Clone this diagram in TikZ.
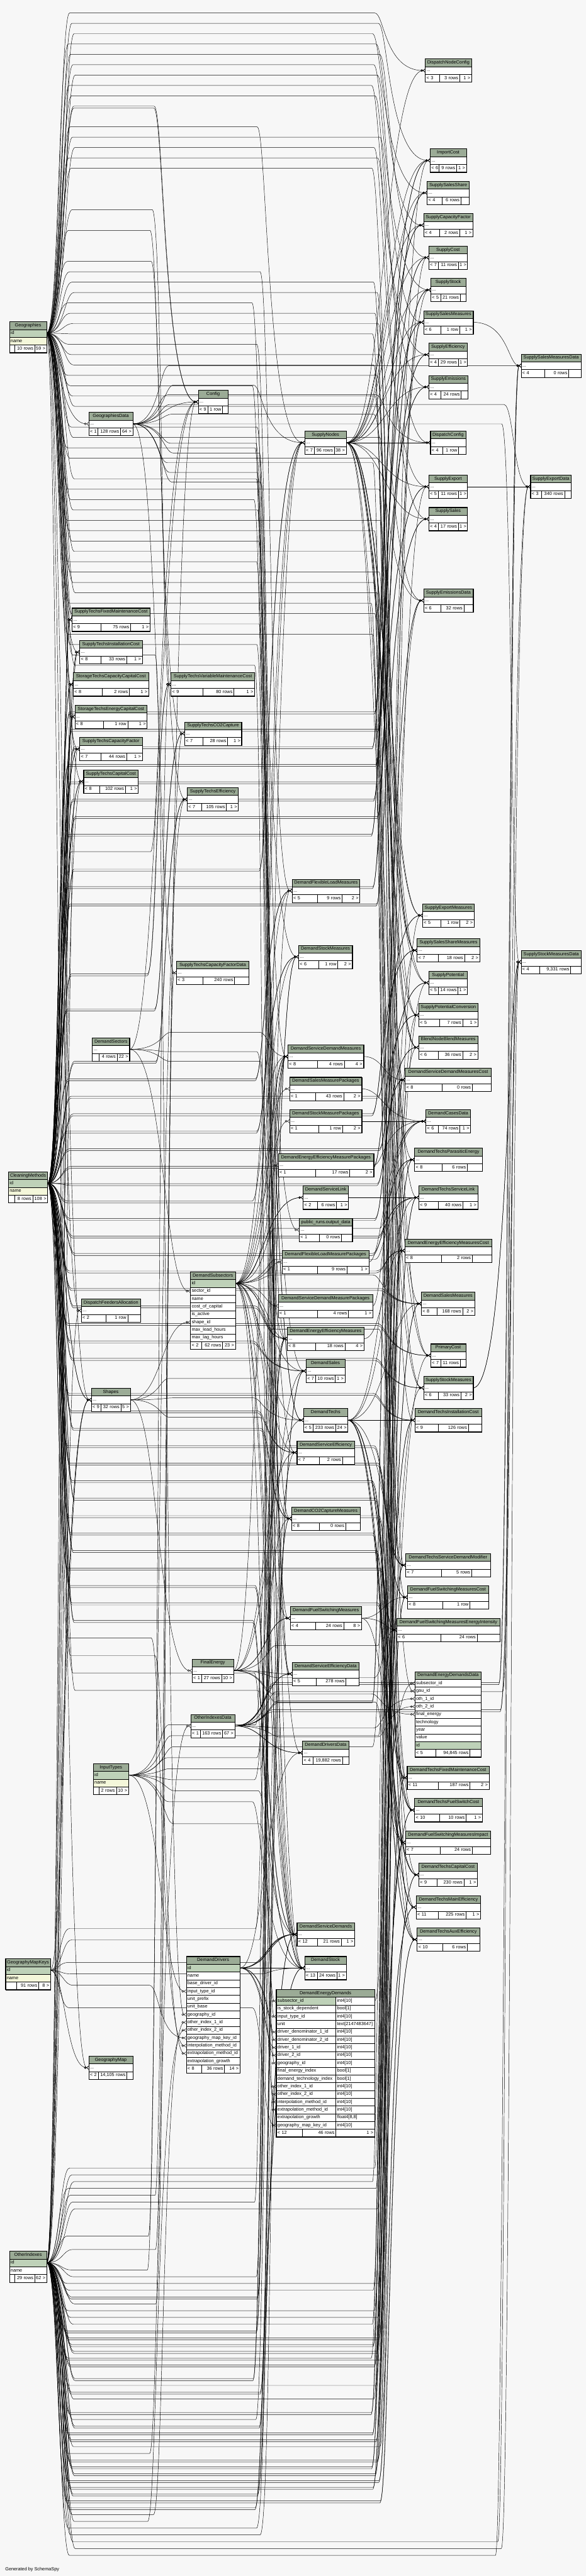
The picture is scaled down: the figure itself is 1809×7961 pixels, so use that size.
\documentclass[tikz,border=0pt]{standalone}
\usepackage{fontspec}
\setmainfont{Liberation Sans}
\usetikzlibrary{arrows.meta}
\definecolor{bgc}{HTML}{F7F7F7}
\definecolor{hdrc}{HTML}{9BAB96}
\definecolor{pkc}{HTML}{BED1B8}
\definecolor{idxc}{HTML}{F4F7DA}
\newcommand\tblfont{\fontsize{14.2pt}{16pt}\selectfont}
\newcommand\tdots{...}
\pgfdeclarelayer{bgl}\pgfdeclarelayer{edges}\pgfsetlayers{bgl,edges,main}
\tikzset{
 cell/.style={draw=black, line width=0.8pt, anchor=north west, inner xsep=4pt, inner ysep=0pt, minimum height=24pt, text height=10.5pt, text depth=3.5pt, font=\tblfont, outer sep=0pt},
 hdr/.style={fill=hdrc},
 ft/.style={fill=white},
 tblbox/.style={draw=black, line width=1.3pt, anchor=north west, inner sep=0pt, outer sep=0pt},
 fk/.style={draw=black, line width=0.9pt, -{Circle[open,length=7pt,width=7pt] Straight Barb[reversed,length=6pt,width=10pt]}},
}
% table: id, left, split1, split2, right, top, title, foot1, foot2 | foot3, rows
\newcommand\tbl[9]{\def\tblId{#1}\def\tblL{#2}\def\tblSa{#3}\def\tblSb{#4}\def\tblR{#5}\def\tblT{#6}\def\tblTitle{#7}\def\tblFa{#8}\def\tblFb{#9}\tblB}
\newcommand\tblB[2]{%
 \pgfmathsetmacro\tblW{\tblR-\tblL}%
 \pgfmathsetmacro\tblTW{\tblW-8}%
 \node[cell,hdr,minimum width=\tblW pt] (\tblId-h) at (\tblL,\tblT) {\tblTitle};
 \foreach \rt/\rs [count=\k] in {#2}{%
   \node[cell,fill=\rs,align=left,text width=\tblTW pt] (\tblId-\k) at (\tblL,\tblT+24*\k) {\mbox{\rt}};
   \xdef\tblN{\k}}%
 \pgfmathsetmacro\tblFy{\tblT+24*(\tblN+1)}%
 \pgfmathsetmacro\tblWa{\tblSa-\tblL-8}%
 \pgfmathsetmacro\tblWb{\tblSb-\tblSa-8}%
 \pgfmathsetmacro\tblWc{\tblR-\tblSb-8}%
 \node[cell,ft,align=left,text width=\tblWa pt] (\tblId-fa) at (\tblL,\tblFy) {\mbox{\tblFa}};
 \node[cell,ft,align=right,text width=\tblWb pt] (\tblId-fb) at (\tblSa,\tblFy) {\mbox{\tblFb}};
 \node[cell,ft,align=right,text width=\tblWc pt] (\tblId-fc) at (\tblSb,\tblFy) {\mbox{#1}};
 \pgfmathsetmacro\tblH{24*(\tblN+2)}%
 \node[tblbox,minimum width=\tblW pt,minimum height=\tblH pt] (\tblId) at (\tblL,\tblT) {};
 \pgfmathsetmacro\tblTA{ifthenelse(\tblR<200,190,ifthenelse(\tblR<470,497,ifthenelse(\tblR<800,822,ifthenelse(\tblR<1200,1190,1574))))}%
 \pgfmathsetmacro\tblTB{ifthenelse(\tblL<200,0,ifthenelse(\tblL<520,190,ifthenelse(\tblL<850,497,ifthenelse(\tblL<1222,822,ifthenelse(\tblL<1600,1190,1574)))))}%
 \expandafter\xdef\csname ta@\tblId\endcsname{\tblTA}%
 \expandafter\xdef\csname tb@\tblId\endcsname{\tblTB}%
}
% connector: parent table, parent anchor node, child table, child anchor node, lane y, seed
\newcommand\fk[6]{%
 \pgfmathsetmacro\fkTA{\csname ta@#1\endcsname}%
 \pgfmathsetmacro\fkTB{\csname tb@#3\endcsname}%
 \pgfmathsetmacro\fkA{\fkTA+mod((#6)*7,25)-12}%
 \pgfmathsetmacro\fkB{\fkTB+mod((#6)*11,29)-14}%
 \pgfmathsetmacro\fkC{\fkA+30}%
 \pgfmathsetmacro\fkD{\fkB-30}%
 \ifdim\fkTB pt>\fkTA pt
  \draw[fk] (#2.east) .. controls (\fkA,0 |- #2.east) and (\fkA,#5) .. (\fkC,#5) -- (\fkD,#5) .. controls (\fkB,#5) and (\fkB,0 |- #4.west) .. (#4.west);
 \else
  \draw[fk] (#2.east) .. controls (\fkA,0 |- #2.east) and (\fkA,0 |- #4.west) .. (#4.west);
 \fi}
\newcommand\fan[5]{%
 \foreach \chd/\anc/\mul [count=\kk] in {#5}{%
   \pgfmathsetmacro\fkl{#3+(\kk-1)*#4}%
   \fk{#1}{#2}{\chd}{\anc}{\fkl}{\kk}%
   \ifnum\mul>1\relax
     \pgfmathsetmacro\fkl{#3+(\kk-1)*#4+6}%
     \fk{#1}{#2}{\chd}{\anc}{\fkl}{\kk+50}%
   \fi}}
\begin{document}
\begin{tikzpicture}[x=1pt,y=-1pt]
\begin{pgfonlayer}{bgl}
\fill[bgc] (0,0) rectangle (1809,7961);
\end{pgfonlayer}
\useasboundingbox (0,0) rectangle (1809,7961);
% column 1
\tbl{Geo}{29}{46}{107}{144}{994}{Geographies}{}{10 rows}{59 >}{id/pkc,name/idxc}
\tbl{CM}{26}{46}{101}{147}{3621}{CleaningMethods}{}{8 rows}{108 >}{id/pkc,name/idxc}
\tbl{GMK}{17}{50}{119}{156}{6053}{GeographyMapKeys}{}{91 rows}{8 >}{id/pkc,name/idxc}
\tbl{OI}{29}{46}{107}{144}{6957}{OtherIndexes}{}{29 rows}{62 >}{id/pkc,name/white}
% column 2
\tbl{GD}{274}{302}{372}{410}{1274}{GeographiesData}{< 1}{128 rows}{64 >}{\tdots/white}
\tbl{STFMC}{222}{311}{403}{463}{1879}{SupplyTechsFixedMaintenanceCost}{< 9}{75 rows}{1 >}{\tdots/white}
\tbl{STIC}{246}{311}{391}{439}{1979}{SupplyTechsInstallationCost}{< 8}{33 rows}{1 >}{\tdots/white}
\tbl{StCCC}{226}{316}{399}{459}{2079}{StorageTechsCapacityCapitalCost}{< 8}{2 rows}{1 >}{\tdots/white}
\tbl{StECC}{231}{319}{394}{454}{2179}{StorageTechsEnergyCapitalCost}{< 8}{1 row}{1 >}{\tdots/white}
\tbl{STCF}{246}{311}{391}{439}{2279}{SupplyTechsCapacityFactor}{< 7}{44 rows}{1 >}{\tdots/white}
\tbl{STCC}{258}{308}{387}{427}{2379}{SupplyTechsCapitalCost}{< 8}{102 rows}{1 >}{\tdots/white}
\tbl{DSec}{285}{306}{361}{400}{3207}{DemandSectors}{}{4 rows}{22 >}{\tdots/white}
\tbl{DFA}{251}{326}{394}{434}{4014}{DispatchFeedersAllocation}{< 2}{1 row}{}{\tdots/white}
\tbl{Sh}{282}{312}{373}{402}{4290}{Shapes}{< 9}{32 rows}{5 >}{\tdots/white}
\tbl{IT}{288}{305}{359}{397}{5450}{InputTypes}{}{2 rows}{10 >}{id/pkc,name/idxc}
\tbl{GMap}{274}{303}{392}{410}{6354}{GeographyMap}{< 2}{14,105 rows}{}{\tdots/white}
% column 3
\tbl{Cfg}{612}{641}{687}{704}{1206}{Config}{< 9}{1 row}{}{\tdots/white}
\tbl{STVMC}{528}{627}{722}{786}{2079}{SupplyTechsVariableMaintenanceCost}{< 9}{80 rows}{1 >}{\tdots/white}
\tbl{STCO2}{570}{627}{703}{746}{2231}{SupplyTechsCO2Capture}{< 7}{28 rows}{1 >}{\tdots/white}
\tbl{STEff}{578}{623}{699}{736}{2434}{SupplyTechsEfficiency}{< 7}{105 rows}{1 >}{\tdots/white}
\tbl{STCFD}{545}{627}{724}{769}{2970}{SupplyTechsCapacityFactorData}{< 3}{240 rows}{}{\tdots/white}
\tbl{DSub}{588}{623}{687}{727}{3930}{DemandSubsectors}{< 2}{62 rows}{23 >}{id/pkc,sector\_id/white,name/white,cost\_of\_capital/white,is\_active/white,shape\_id/white,max\_lead\_hours/white,max\_lag\_hours/white}
\tbl{FE}{593}{623}{684}{721}{5127}{FinalEnergy}{< 1}{27 rows}{10 >}{\tdots/white}
\tbl{OID}{589}{619}{687}{725}{5298}{OtherIndexesData}{< 1}{163 rows}{67 >}{\tdots/white}
\tbl{DD}{575}{623}{693}{741}{6046}{DemandDrivers}{< 8}{36 rows}{14 >}{id/pkc,name/white,base\_driver\_id/white,input\_type\_id/white,unit\_prefix/white,unit\_base/white,geography\_id/white,other\_index\_1\_id/white,other\_index\_2\_id/white,geography\_map\_key\_id/white,interpolation\_method\_id/white,extrapolation\_method\_id/white,extrapolation\_growth/white}
% column 4
\tbl{SN}{941}{971}{1032}{1069}{1332}{SupplyNodes}{< 7}{96 rows}{38 >}{\tdots/white}
\tbl{DFLM}{902}{979}{1056}{1111}{2717}{DemandFlexibleLoadMeasures}{< 5}{9 rows}{2 >}{\tdots/white}
\tbl{DSM}{922}{983}{1043}{1088}{2921}{DemandStockMeasures}{< 6}{1 row}{2 >}{\tdots/white}
\tbl{DSDM}{889}{979}{1063}{1123}{3229}{DemandServiceDemandMeasures}{< 8}{4 rows}{4 >}{\tdots/white}
\tbl{DSMP}{894}{975}{1061}{1117}{3329}{DemandSalesMeasurePackages}{< 1}{43 rows}{2 >}{\tdots/white}
\tbl{DStMP}{894}{983}{1057}{1117}{3429}{DemandStockMeasurePackages}{< 1}{1 row}{2 >}{\tdots/white}
\tbl{DEEMP}{859}{975}{1080}{1154}{3565}{DemandEnergyEfficiencyMeasurePackages}{< 1}{17 rows}{2 >}{\tdots/white}
\tbl{DSL}{936}{979}{1039}{1076}{3665}{DemandServiceLink}{< 2}{6 rows}{1 >}{\tdots/white}
\tbl{PROD}{924}{985}{1054}{1088}{3765}{public\_runs.output\_data}{< 1}{0 rows}{}{\tdots/white}
\tbl{DFLMP}{871}{979}{1071}{1139}{3864}{DemandFlexibleLoadMeasurePackages}{< 1}{9 rows}{1 >}{\tdots/white}
\tbl{DSDMP}{859}{979}{1076}{1151}{4000}{DemandServiceDemandMeasurePackages}{< 1}{4 rows}{1 >}{\tdots/white}
\tbl{DEEM}{887}{975}{1065}{1124}{4101}{DemandEnergyEfficiencyMeasures}{< 8}{18 rows}{4 >}{\tdots/white}
\tbl{DS}{945}{975}{1035}{1065}{4201}{DemandSales}{< 7}{10 rows}{1 >}{\tdots/white}
\tbl{DT}{937}{967}{1036}{1074}{4353}{DemandTechs}{< 5}{233 rows}{24 >}{\tdots/white}
\tbl{DSE}{917}{985}{1057}{1095}{4453}{DemandServiceEfficiency}{< 7}{2 rows}{}{\tdots/white}
\tbl{DCO2}{900}{985}{1067}{1112}{4657}{DemandCO2CaptureMeasures}{< 8}{0 rows}{}{\tdots/white}
\tbl{DFSM}{896}{975}{1061}{1116}{4965}{DemandFuelSwitchingMeasures}{< 4}{24 rows}{8 >}{\tdots/white}
\tbl{DSED}{902}{976}{1068}{1109}{5137}{DemandServiceEfficiencyData}{< 5}{278 rows}{}{\tdots/white}
\tbl{DDD}{934}{967}{1057}{1077}{5381}{DemandDriversData}{< 4}{19,882 rows}{}{\tdots/white}
\tbl{DSD}{917}{979}{1053}{1095}{5942}{DemandServiceDemands}{< 12}{21 rows}{1 >}{\tdots/white}
\tbl{DSt}{941}{979}{1040}{1069}{6046}{DemandStock}{< 13}{24 rows}{1 >}{\tdots/white}
% DemandEnergyDemands (focus table)
\node[cell,hdr,minimum width=304pt] (DED-h) at (853,6148) {DemandEnergyDemands};
\foreach \rt/\rty/\rs [count=\k] in {subsector\_id/int4[10]/pkc, is\_stock\_dependent/bool[1]/white, input\_type\_id/int4[10]/white, unit/text[2147483647]/white, driver\_denominator\_1\_id/int4[10]/white, driver\_denominator\_2\_id/int4[10]/white, driver\_1\_id/int4[10]/white, driver\_2\_id/int4[10]/white, geography\_id/int4[10]/white, final\_energy\_index/bool[1]/white, demand\_technology\_index/bool[1]/white, other\_index\_1\_id/int4[10]/white, other\_index\_2\_id/int4[10]/white, interpolation\_method\_id/int4[10]/white, extrapolation\_method\_id/int4[10]/white, extrapolation\_growth/{float4[8,8]}/white, geography\_map\_key\_id/int4[10]/white}{
  \node[cell,fill=\rs,align=left,text width=176pt] (DED-\k) at (853,6148+24*\k) {\mbox{\rt}};
  \node[cell,fill=white,align=left,text width=112pt] (DED-\k-t) at (1037,6148+24*\k) {\mbox{\rty}};
}
\node[cell,ft,align=left,text width=72pt] (DED-fa) at (853,6580) {\mbox{< 12}};
\node[cell,ft,align=right,text width=96pt] (DED-fb) at (933,6580) {\mbox{46 rows}};
\node[cell,ft,align=right,text width=112pt] (DED-fc) at (1037,6580) {\mbox{1 >}};
\node[tblbox,line width=2.6pt,minimum width=304pt,minimum height=456pt] (DED) at (853,6148) {};
\expandafter\xdef\csname ta@DED\endcsname{1190}
\expandafter\xdef\csname tb@DED\endcsname{822}
% column 5
\tbl{DNC}{1313}{1357}{1419}{1456}{182}{DispatchNodeConfig}{< 3}{3 rows}{1 >}{\tdots/white}
\tbl{IC}{1328}{1356}{1410}{1440}{460}{ImportCost}{< 6}{9 rows}{1 >}{\tdots/white}
\tbl{SSS}{1319}{1364}{1423}{1449}{560}{SupplySalesShare}{< 4}{6 rows}{}{\tdots/white}
\tbl{SCF}{1308}{1357}{1419}{1460}{660}{SupplyCapacityFactor}{< 4}{2 rows}{1 >}{\tdots/white}
\tbl{SC}{1324}{1353}{1415}{1443}{760}{SupplyCost}{< 7}{11 rows}{1 >}{\tdots/white}
\tbl{SSt}{1330}{1360}{1421}{1438}{860}{SupplyStock}{< 5}{21 rows}{}{\tdots/white}
\tbl{SSM}{1308}{1361}{1419}{1461}{960}{SupplySalesMeasures}{< 6}{1 row}{1 >}{\tdots/white}
\tbl{SEf}{1324}{1353}{1415}{1443}{1060}{SupplyEfficiency}{< 4}{29 rows}{1 >}{\tdots/white}
\tbl{SEm}{1324}{1360}{1424}{1445}{1160}{SupplyEmissions}{< 4}{24 rows}{}{\tdots/white}
\tbl{DC}{1329}{1367}{1416}{1438}{1332}{DispatchConfig}{< 4}{1 row}{}{\tdots/white}
\tbl{SEx}{1324}{1353}{1415}{1443}{1468}{SupplyExport}{< 5}{11 rows}{1 >}{\tdots/white}
\tbl{SSa}{1324}{1353}{1415}{1443}{1568}{SupplySales}{< 4}{17 rows}{1 >}{\tdots/white}
\tbl{SED}{1308}{1360}{1432}{1461}{1820}{SupplyEmissionsData}{< 6}{32 rows}{}{\tdots/white}
\tbl{SExM}{1305}{1361}{1420}{1464}{2793}{SupplyExportMeasures}{< 5}{1 row}{2 >}{\tdots/white}
\tbl{SSSM}{1288}{1353}{1434}{1481}{2901}{SupplySalesShareMeasures}{< 7}{18 rows}{2 >}{\tdots/white}
\tbl{SP}{1324}{1353}{1414}{1443}{3001}{SupplyPotential}{< 5}{14 rows}{1 >}{\tdots/white}
\tbl{SPC}{1293}{1357}{1428}{1476}{3101}{SupplyPotentialConversion}{< 5}{7 rows}{1 >}{\tdots/white}
\tbl{BNBM}{1293}{1353}{1428}{1475}{3201}{BlendNodeBlendMeasures}{< 6}{36 rows}{2 >}{\tdots/white}
\tbl{DSDMC}{1251}{1364}{1458}{1517}{3301}{DemandServiceDemandMeasuresCost}{< 8}{0 rows}{}{\tdots/white}
\tbl{DCD}{1315}{1353}{1420}{1453}{3429}{DemandCasesData}{< 6}{74 rows}{1 >}{\tdots/white}
\tbl{DTPE}{1280}{1364}{1443}{1490}{3548}{DemandTechsParasiticEnergy}{< 8}{6 rows}{}{\tdots/white}
\tbl{DTSL}{1293}{1353}{1429}{1475}{3665}{DemandTechsServiceLink}{< 9}{40 rows}{1 >}{\tdots/white}
\tbl{DEEMC}{1250}{1362}{1458}{1518}{3829}{DemandEnergyEfficiencyMeasuresCost}{< 8}{2 rows}{}{\tdots/white}
\tbl{DSaM}{1301}{1349}{1428}{1466}{3993}{DemandSalesMeasures}{< 8}{168 rows}{2 >}{\tdots/white}
\tbl{PC}{1330}{1360}{1421}{1438}{4153}{PrimaryCost}{< 7}{11 rows}{}{\tdots/white}
\tbl{SStM}{1308}{1353}{1423}{1461}{4253}{SupplyStockMeasures}{< 6}{33 rows}{2 >}{\tdots/white}
\tbl{DTIC}{1281}{1354}{1446}{1487}{4353}{DemandTechsInstallationCost}{< 9}{126 rows}{}{\tdots/white}
\tbl{DTSDM}{1253}{1362}{1456}{1514}{4801}{DemandTechsServiceDemandModifier}{< 7}{5 rows}{}{\tdots/white}
\tbl{DFSMC}{1258}{1367}{1451}{1509}{4900}{DemandFuelSwitchingMeasuresCost}{< 8}{1 row}{}{\tdots/white}
\tbl{DFSMEI}{1225}{1360}{1473}{1544}{5001}{DemandFuelSwitchingMeasuresEnergyIntensity}{< 6}{24 rows}{}{\tdots/white}
\tbl{DEDD}{1281}{1345}{1451}{1486}{5166}{DemandEnergyDemandsData}{< 5}{94,845 rows}{}{subsector\_id/white,gau\_id/white,oth\_1\_id/white,oth\_2\_id/white,final\_energy/white,technology/white,year/white,value/white,id/pkc}
\tbl{DTFMC}{1257}{1353}{1451}{1510}{5458}{DemandTechsFixedMaintenanceCost}{< 11}{187 rows}{2 >}{\tdots/white}
\tbl{DTFSC}{1280}{1357}{1439}{1489}{5558}{DemandTechsFuelSwitchCost}{< 10}{10 rows}{1 >}{\tdots/white}
\tbl{DFSMI}{1252}{1359}{1458}{1515}{5658}{DemandFuelSwitchingMeasuresImpact}{< 7}{24 rows}{}{\tdots/white}
\tbl{DTCC}{1293}{1349}{1432}{1474}{5758}{DemandTechsCapitalCost}{< 9}{230 rows}{1 >}{\tdots/white}
\tbl{DTME}{1285}{1353}{1439}{1484}{5858}{DemandTechsMainEfficiency}{< 11}{225 rows}{1 >}{\tdots/white}
\tbl{DTAE}{1288}{1367}{1443}{1481}{5958}{DemandTechsAuxEfficiency}{< 10}{6 rows}{}{\tdots/white}
% column 6
\tbl{SSMD}{1609}{1682}{1756}{1795}{1094}{SupplySalesMeasuresData}{< 4}{0 rows}{}{\tdots/white}
\tbl{SExD}{1638}{1672}{1743}{1764}{1468}{SupplyExportData}{< 3}{340 rows}{}{\tdots/white}
\tbl{SStMD}{1609}{1667}{1762}{1795}{2937}{SupplyStockMeasuresData}{< 4}{9,331 rows}{}{\tdots/white}
\node[anchor=west,font=\tblfont,inner sep=0pt] (gen) at (16,7941) {Generated by SchemaSpy};
% connectors
\begin{pgfonlayer}{edges}
\fan{Geo}{Geo-1}{40}{32}{DNC/DNC/1, IC/IC/1, SSS/SSS/1, SCF/SCF/1, SC/SC/1, SSt/SSt/1, SSM/SSM/1, SEf/SEf/1, SEm/SEm/1, Cfg/Cfg/2, GD/GD/1, SN/SN/1, DC/DC/1, SEx/SEx/1, SSa/SSa/1, SED/SED/1, STFMC/STFMC/1, STIC/STIC/1, StCCC/StCCC/1, STVMC/STVMC/1, StECC/StECC/1, STCO2/STCO2/1, STCF/STCF/1, STCC/STCC/1, STEff/STEff/1, DFLM/DFLM/1, SExM/SExM/1, SSSM/SSSM/1, DSM/DSM/1, SP/SP/1, SPC/SPC/1, BNBM/BNBM/1, DSDM/DSDM/1, DSDMC/DSDMC/1, DTPE/DTPE/1, DTSL/DTSL/1, PROD/PROD/1, DEEMC/DEEMC/1, DSaM/DSaM/1, DFA/DFA/1, DEEM/DEEM/1, PC/PC/1, DS/DS/1, SStM/SStM/1, Sh/Sh/1, DT/DT/1, DTIC/DTIC/1, DSE/DSE/1, DCO2/DCO2/1, DTSDM/DTSDM/1, DFSMC/DFSMC/1, DFSM/DFSM/1, DFSMEI/DFSMEI/1, DSED/DSED/1, DTFMC/DTFMC/1, DTFSC/DTFSC/1, DFSMI/DFSMI/1, DTCC/DTCC/1, DTME/DTME/1, DSD/DSD/1, DTAE/DTAE/1, DSt/DSt/1, DD/DD-7/1, DED/DED-9/1, GMap/GMap/1}
\fan{CM}{CM-1}{2200}{54}{IC/IC/2, SSS/SSS/2, SCF/SCF/2, SC/SC/2, SSt/SSt/2, SSM/SSM/2, SEf/SEf/2, SEm/SEm/2, Cfg/Cfg/1, SN/SN/2, SEx/SEx/2, SSa/SSa/2, STFMC/STFMC/2, STIC/STIC/2, StCCC/StCCC/2, STVMC/STVMC/2, StECC/StECC/2, STCO2/STCO2/2, STCF/STCF/2, STCC/STCC/2, STEff/STEff/2, DFLM/DFLM/2, SExM/SExM/2, SSSM/SSSM/2, DSM/DSM/2, SP/SP/2, SPC/SPC/2, BNBM/BNBM/2, DSDM/DSDM/2, DSDMC/DSDMC/2, DTPE/DTPE/2, DTSL/DTSL/2, DEEMC/DEEMC/2, DSaM/DSaM/2, DEEM/DEEM/2, PC/PC/2, DS/DS/2, SStM/SStM/2, Sh/Sh/2, DTIC/DTIC/2, DSE/DSE/2, DCO2/DCO2/2, DTSDM/DTSDM/2, DFSMC/DFSMC/2, DFSMEI/DFSMEI/2, DTFMC/DTFMC/2, DTFSC/DTFSC/2, DFSMI/DFSMI/2, DTCC/DTCC/2, DTME/DTME/2, DSD/DSD/2, DTAE/DTAE/2, DSt/DSt/2, DD/DD-11/1, DD/DD-12/1, DED/DED-14/1, DED/DED-15/1}
\fan{OI}{OI-1}{6700}{21}{IC/IC/1, SC/SC/1, SSt/SSt/1, SSM/SSM/1, Cfg/Cfg/1, SN/SN/1, SEx/SEx/1, STFMC/STFMC/1, STIC/STIC/1, StCCC/StCCC/1, STVMC/STVMC/1, StECC/StECC/1, STCO2/STCO2/1, STCF/STCF/1, STCC/STCC/1, STEff/STEff/1, DFLM/DFLM/1, SExM/SExM/1, SSSM/SSSM/1, DSM/DSM/2, STCFD/STCFD/1, SP/SP/1, SPC/SPC/1, BNBM/BNBM/1, DSDM/DSDM/2, DSDMC/DSDMC/2, DTPE/DTPE/2, DTSL/DTSL/2, DEEMC/DEEMC/2, DSaM/DSaM/2, DFA/DFA/1, DEEM/DEEM/2, PC/PC/1, DS/DS/2, SStM/SStM/1, Sh/Sh/2, DTIC/DTIC/2, DSE/DSE/1, DCO2/DCO2/2, DTSDM/DTSDM/2, DFSMC/DFSMC/2, DFSMEI/DFSMEI/1, OID/OID/1, DTFMC/DTFMC/2, DTFSC/DTFSC/2, DFSMI/DFSMI/2, DTCC/DTCC/2, DTME/DTME/2, DSD/DSD/2, DTAE/DTAE/2, DSt/DSt/2, DD/DD-8/1, DD/DD-9/1, DED/DED-12/1, DED/DED-13/1, SSMD/SSMD/1, SStMD/SStMD/1, SExD/SExD/1}
\fan{GMK}{GMK-1}{5960}{35}{DSDM/DSDM/1, DEEM/DEEM/1, Sh/Sh/1, DSD/DSD/1, DSt/DSt/1, DD/DD-10/1, GMap/GMap/1, DED/DED-17/1}
\fan{IT}{IT-1}{5330}{34}{DSDM/DSDM/1, DSDMC/DSDMC/1, DEEMC/DEEMC/1, DEEM/DEEM/1, DS/DS/1, DCO2/DCO2/1, DSD/DSD/1, DSt/DSt/1, DD/DD-4/1, DED/DED-3/1}
\fan{GD}{GD}{1130}{30}{SSMD/SSMD/1, Cfg/Cfg/1, SN/SN/1, DC/DC/1, SExD/SExD/1, SED/SED/1, SStMD/SStMD/1, STCFD/STCFD/1, DT/DT/1, DSED/DSED/1, DEDD/DEDD-2/1, DDD/DDD/1, DSt/DSt/1}
\fan{OID}{OID}{5200}{28}{SSMD/SSMD/2, SExD/SExD/1, SED/SED/2, SStMD/SStMD/2, DSED/DSED/2, DEDD/DEDD-3/1, DEDD/DEDD-4/1, DDD/DDD/2}
\fan{DSec}{DSec}{3160}{30}{Cfg/Cfg/1, DSDM/DSDM/1, DSub/DSub-2/1, DEEM/DEEM/1, DSD/DSD/1}
\fan{DSub}{DSub-1}{3700}{24}{DFLM/DFLM/1, DSM/DSM/1, DSDM/DSDM/1, DSMP/DSMP/1, DCD/DCD/1, DStMP/DStMP/1, DEEMP/DEEMP/1, DSL/DSL/2, DTSL/DTSL/1, DFLMP/DFLMP/1, DSaM/DSaM/1, DSDMP/DSDMP/1, DEEM/DEEM/1, DS/DS/1, DT/DT/1, DSE/DSE/1, DCO2/DCO2/1, DTSDM/DTSDM/1, DFSM/DFSM/1, DSD/DSD/1, DSt/DSt/1, DED/DED-1/1}
\fan{SN}{SN}{0}{0}{DNC/DNC/1, IC/IC/1, SSS/SSS/1, SCF/SCF/1, SC/SC/1, SSt/SSt/1, SSM/SSM/1, SEf/SEf/1, SEm/SEm/1, DC/DC/2, SEx/SEx/1, SSa/SSa/1, SExM/SExM/1, SSSM/SSSM/2, SP/SP/1, SPC/SPC/1, BNBM/BNBM/2, SStM/SStM/1, PC/PC/1}
\fan{Sh}{Sh}{4260}{30}{SN/SN/1, DSub/DSub-6/1, DT/DT/1, FE/FE/1, DSt/DSt/1}
\fan{FE}{FE}{5060}{25}{SN/SN/1, SED/SED/1, DT/DT/1, DSE/DSE/1, DFSM/DFSM/2, DFSMEI/DFSMEI/1, DSED/DSED/1, DEDD/DEDD-5/1, DFSMI/DFSMI/1}
\fan{DT}{DT}{0}{0}{DTPE/DTPE/1, DTSL/DTSL/1, DSaM/DSaM/1, DTIC/DTIC/1, DTSDM/DTSDM/1, DTFMC/DTFMC/1, DTFSC/DTFSC/2, DTCC/DTCC/1, DTME/DTME/1, DTAE/DTAE/1}
\fan{DD}{DD-1}{0}{0}{DDD/DDD/1, DSD/DSD/2, DSD/DSD/2, DSt/DSt/2, DSt/DSt/2, DED/DED-5/1, DED/DED-6/1, DED/DED-7/1, DED/DED-8/1}
\fan{DSDM}{DSDM}{0}{0}{DSDMC/DSDMC/1}
\fan{DEEM}{DEEM}{0}{0}{DEEMC/DEEMC/1}
\fan{DFSM}{DFSM}{0}{0}{DFSMC/DFSMC/1, DFSMEI/DFSMEI/1, DFSMI/DFSMI/1}
\fan{DSMP}{DSMP}{0}{0}{DCD/DCD/1}
\fan{DStMP}{DStMP}{0}{0}{DCD/DCD/1}
\fan{DEEMP}{DEEMP}{0}{0}{DCD/DCD/1}
\fan{DFLMP}{DFLMP}{0}{0}{DCD/DCD/1}
\fan{DSDMP}{DSDMP}{0}{0}{DCD/DCD/1}
\fan{SSM}{SSM}{0}{0}{SSMD/SSMD/1}
\fan{SEx}{SEx}{0}{0}{SExD/SExD/1}
\fan{SStM}{SStM}{0}{0}{SStMD/SStMD/2}
\fan{DSL}{DSL}{0}{0}{DTSL/DTSL/1}
\fan{DED}{DED-1-t}{0}{0}{DEDD/DEDD-1/1}
\end{pgfonlayer}
\end{tikzpicture}
\end{document}
